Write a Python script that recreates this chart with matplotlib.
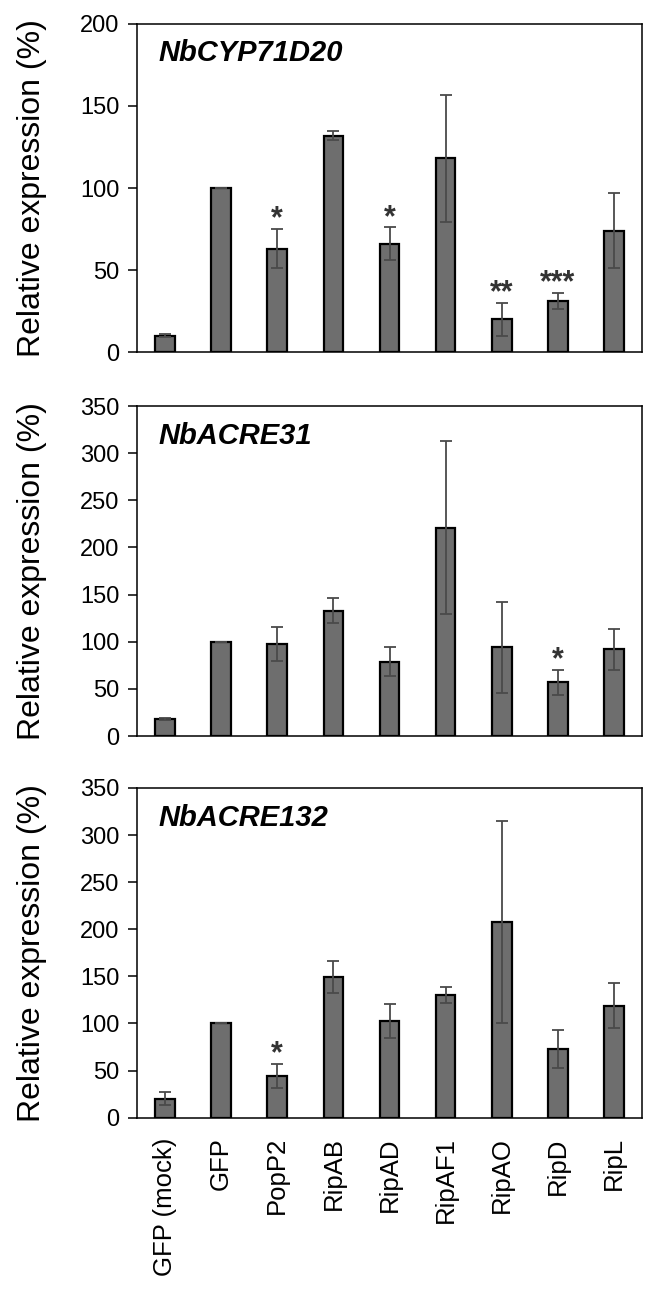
import matplotlib
matplotlib.use('Agg')
import matplotlib.pyplot as plt
import numpy as np

plt.rcParams['font.family'] = ['Liberation Sans', 'DejaVu Sans']

labels = ['GFP (mock)', 'GFP', 'PopP2', 'RipAB', 'RipAD', 'RipAF1', 'RipAO', 'RipD', 'RipL']

# NbCYP71D20
cyp_mean = [10, 100, 63, 132, 66, 118, 20, 31, 74]
cyp_err = [1, 0, 12, 2.5, 10, 39, 10, 5, 23]
cyp_sig = ['', '', '*', '', '*', '', '**', '***', '']

# NbACRE31
a31_mean = [18, 100, 98, 133, 79, 221, 94, 57, 92]
a31_err = [1.5, 0, 18, 13, 15.5, 92, 48, 13, 22]
a31_sig = ['', '', '', '', '', '', '', '*', '']

# NbACRE132
a132_mean = [20, 100, 44, 149, 103, 130, 208, 73, 119]
a132_err = [7, 0, 13, 17, 18, 8.5, 107, 20, 24]
a132_sig = ['', '', '*', '', '', '', '', '', '']

panels = [
    ('NbCYP71D20', cyp_mean, cyp_err, cyp_sig, 200, [0.2079, 0.7269, 0.7663, 0.2545]),
    ('NbACRE31', a31_mean, a31_err, a31_sig, 350, [0.2079, 0.4290, 0.7663, 0.2560]),
    ('NbACRE132', a132_mean, a132_err, a132_sig, 350, [0.2079, 0.1329, 0.7663, 0.2558]),
]

fig = plt.figure(figsize=(6.59, 12.89), dpi=100)
x = np.arange(len(labels))

for i, (gene, mean, err, sig, ymax, pos) in enumerate(panels):
    ax = fig.add_axes(pos)
    ax.bar(x, mean, width=0.35, color='#6e6e6e', edgecolor='black', linewidth=1.6, zorder=2)
    ax.errorbar(x, mean, yerr=err, fmt='none', ecolor='#4a4a4a', elinewidth=1.3,
                capsize=4.5, capthick=1.3, zorder=3)
    for xi, m, e, s in zip(x, mean, err, sig):
        if s:
            ax.annotate(s, (xi, m + e), xytext=(0, 1), textcoords='offset points',
                        ha='center', va='baseline', fontsize=22, fontweight='bold',
                        color='#333333')
    ax.set_xlim(-0.5, len(labels) - 0.5)
    ax.set_ylim(0, ymax)
    ax.set_yticks(np.arange(0, ymax + 1, 50))
    ax.tick_params(axis='y', direction='out', length=6.5, width=1.1, labelsize=17, pad=6)
    ax.tick_params(axis='x', length=0, labelsize=18.5, pad=14)
    for sp in ax.spines.values():
        sp.set_linewidth(1.1)
    ax.set_xticks(x)
    if i == 2:
        ax.set_xticklabels(labels, rotation=90)
    else:
        ax.set_xticklabels([])
    ax.set_ylabel('Relative expression (%)', fontsize=23)
    ax.yaxis.set_label_coords(-0.178, 0.5)
    ax.text(0.042, 0.91, gene, transform=ax.transAxes, fontsize=21,
            fontstyle='italic', fontweight='bold', ha='left', va='center')

fig.savefig('out.png', dpi=100)
